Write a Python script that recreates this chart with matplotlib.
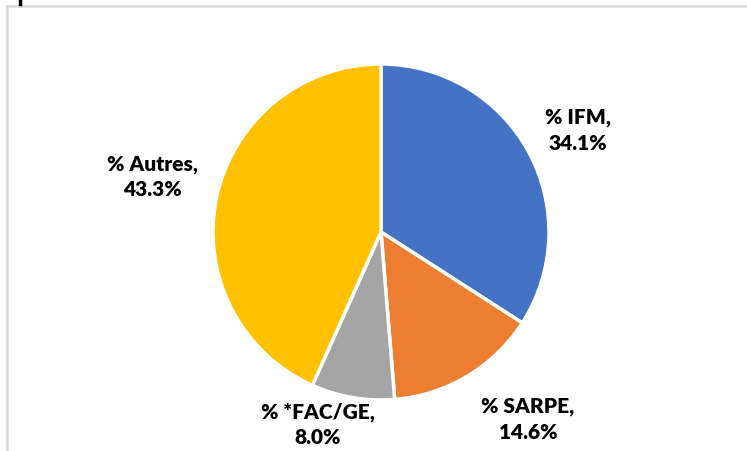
import matplotlib
matplotlib.use("Agg")
import matplotlib.pyplot as plt
from matplotlib.lines import Line2D

# data
categories = ["% IFM", "% SARPE", "% *FAC/GE", "% Autres"]
shares = [34.1, 14.6, 8.0, 43.3]
colors = ["#4472C4", "#ED7D31", "#A5A5A5", "#FFC000"]

W, H = 747, 452
fig = plt.figure(figsize=(W / 100, H / 100), dpi=100)
ax = fig.add_axes([0, 0, 1, 1])

# pie centre (px) and radius (px) -> axes in radius units
cx, cy, r = 381, 233, 168

wedges, _ = ax.pie(shares, colors=colors, startangle=90, counterclock=False,
                   radius=1, center=(0, 0),
                   wedgeprops=dict(edgecolor="white", linewidth=2.5))
ax.set_xlim(-cx / r, (W - cx) / r)
ax.set_ylim(-(H - cy) / r, cy / r)
ax.set_aspect("auto")
ax.axis("off")

# label offsets (in radius units) as Excel places them
label_pos = [(1.17, 0.61), (0.875, -1.11), (-0.375, -1.14), (-1.363, 0.333)]
for cat, val, (lx, ly) in zip(categories, shares, label_pos):
    ax.text(lx, ly, f"{cat},\n{val:.1f}%", ha="center", va="center",
            fontsize=15, fontweight="heavy", family="Lato",
            linespacing=1.4, color="black")

# chart frame (partially visible)
fig.add_artist(Line2D([7 / W, 1], [1 - 7 / H, 1 - 7 / H], color="#D9D9D9", lw=1.8))
fig.add_artist(Line2D([7 / W, 7 / W], [0, 1 - 7 / H], color="#D9D9D9", lw=1.8))
fig.add_artist(Line2D([20 / W, 20 / W], [1, 1 - 5 / H], color="black", lw=2.5))

fig.savefig("out.png", dpi=100)
